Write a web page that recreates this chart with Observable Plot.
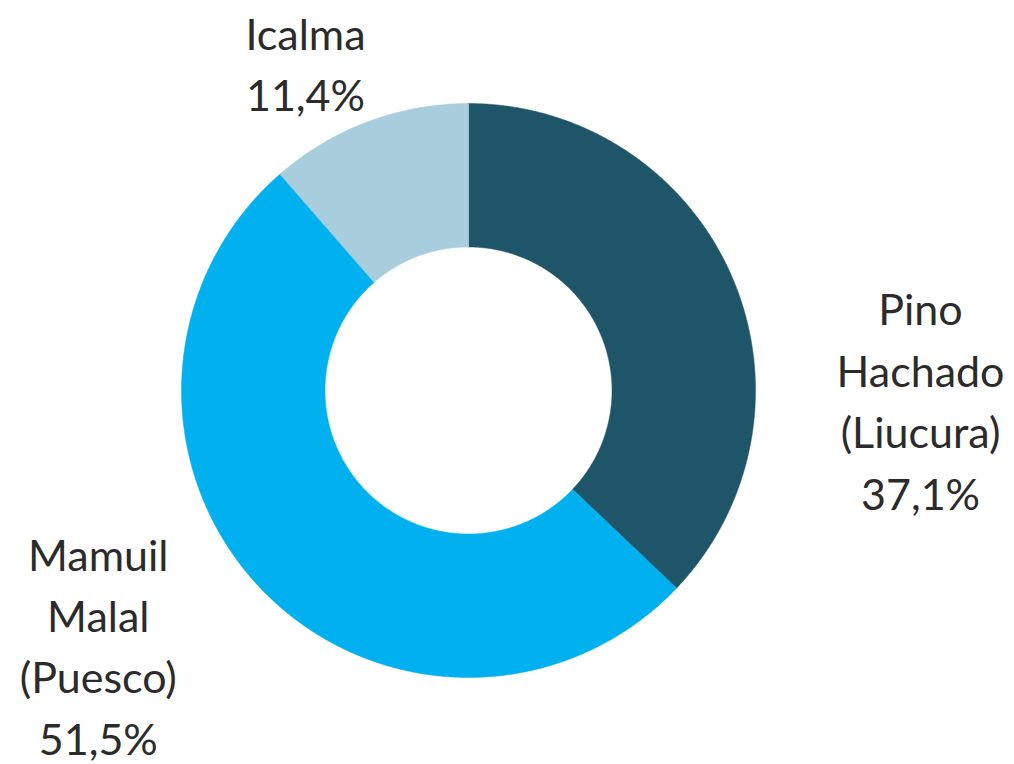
<!DOCTYPE html>
<html>
<head>
<meta charset="utf-8">
<script src="https://cdn.jsdelivr.net/npm/d3@7"></script>
<script src="https://cdn.jsdelivr.net/npm/@observablehq/plot@0.6"></script>
<style>
  html, body { margin: 0; padding: 0; background: #fff; }
</style>
</head>
<body>
<div id="chart"></div>
<script>
// ---- data ----
const categories = ["Pino Hachado (Liucura)", "Mamuil Malal (Puesco)", "Icalma"];
const labelText = ["Pino\nHachado\n(Liucura)", "Mamuil\nMalal\n(Puesco)", "Icalma"];
const shares = [37.1, 51.5, 11.4];
const valueLabels = ["37,1%", "51,5%", "11,4%"];

// ---- styling / layout ----
const colors = ["#1F5568", "#00B0EF", "#A8CDDC"];
const innerR = 0.5, outerR = 1;
const labelPos = [[1.575, -0.025], [-1.29, -0.88], [-0.568, 1.148]]; // data units

// build slice polygons (geometry in data space, scaled by Plot)
const total = d3.sum(shares);
const polys = [];
let acc = 0;
shares.forEach((v, i) => {
  const a0 = acc / total * 2 * Math.PI;
  acc += v;
  const a1 = acc / total * 2 * Math.PI;
  const n = Math.max(8, Math.ceil((a1 - a0) / 0.005));
  for (let k = 0; k <= n; k++) {
    const a = a0 + (a1 - a0) * k / n;
    polys.push({name: categories[i], x: outerR * Math.sin(a), y: outerR * Math.cos(a)});
  }
  for (let k = n; k >= 0; k--) {
    const a = a0 + (a1 - a0) * k / n;
    polys.push({name: categories[i], x: innerR * Math.sin(a), y: innerR * Math.cos(a)});
  }
});

const labels = categories.map((c, i) => ({
  name: c,
  text: labelText[i] + "\n" + valueLabels[i],
  x: labelPos[i][0],
  y: labelPos[i][1]
}));

const cx = 468, cy = 390, R = 287;
const chart = Plot.plot({
  width: 1014,
  height: 764,
  margin: 0,
  x: {domain: [-1, 1], range: [cx - R, cx + R], axis: null},
  y: {domain: [-1, 1], range: [cy + R, cy - R], axis: null},
  color: {domain: categories, range: colors},
  style: {fontFamily: "Lato, sans-serif", background: "#fff"},
  marks: [
    Plot.line(polys, {x: "x", y: "y", z: "name", fill: "name", stroke: "name", strokeWidth: 0.5, curve: "linear-closed"}),
    Plot.text(labels, {
      x: "x", y: "y", text: "text",
      fontSize: 43, lineHeight: 1.43, fill: "#2b2b2b",
      textAnchor: "middle", lineAnchor: "middle"
    })
  ]
});
document.getElementById("chart").appendChild(chart);
</script>
</body>
</html>
